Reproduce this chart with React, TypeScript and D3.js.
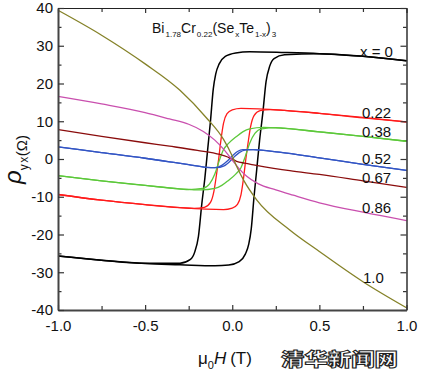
import { useEffect, useRef } from "react";
import {
  select,
  scaleLinear,
  axisBottom,
  axisLeft,
  axisTop,
  axisRight,
  line,
  curveMonotoneX,
} from "d3";

type Pt = [number, number];

// field ticks (T) and resistivity ticks (Ω)
const fieldTicks = [-1, -0.5, 0, 0.5, 1];
const fieldMinor = [-0.75, -0.25, 0.25, 0.75];
const rhoTicks = [-40, -30, -20, -10, 0, 10, 20, 30, 40];
const rhoMinor = [-35, -25, -15, -5, 5, 15, 25, 35];

// x = 0, sweep down
const x0Down: Pt[] = [
  [1, 26.0], [0.75, 27.2], [0.5, 27.9], [0.3, 28.2], [0.1, 28.4], [0.02, 28.1],
  [-0.04, 27.2], [-0.075, 25.2], [-0.095, 22.5], [-0.109, 18.5], [-0.125, 10],
  [-0.14, 3], [-0.157, -5], [-0.175, -12], [-0.194, -20.5], [-0.215, -24.6],
  [-0.24, -26.6], [-0.3, -27.6], [-0.5, -27.6], [-0.75, -26.8], [-1, -25.7],
];
const x0Up: Pt[] = [
  [-1, -25.7], [-0.75, -26.8], [-0.5, -27.7], [-0.3, -28.0], [-0.1, -28.3],
  [-0.02, -28.1], [0.04, -27.2], [0.075, -25.2], [0.095, -22.5], [0.109, -18.5],
  [0.125, -10], [0.14, -3], [0.157, 5], [0.175, 12], [0.194, 20.5], [0.215, 24.6],
  [0.24, 26.6], [0.3, 27.6], [0.5, 27.9], [0.75, 27.2], [1, 26.0],
];

// x = 0.22
const x22Down: Pt[] = [
  [1, 9.8], [0.75, 11.0], [0.5, 12.1], [0.3, 12.9], [0.15, 13.3], [0.05, 13.4],
  [0.0, 13.0], [-0.03, 12.0], [-0.05, 9.5], [-0.065, 5], [-0.078, 0], [-0.09, -4],
  [-0.105, -8.5], [-0.125, -11.5], [-0.16, -12.8], [-0.22, -13.1], [-0.3, -12.9],
  [-0.5, -12.1], [-0.75, -10.9], [-1, -9.4],
];
const x22Up: Pt[] = [
  [-1, -9.4], [-0.75, -10.9], [-0.5, -12.1], [-0.3, -12.9], [-0.15, -13.3],
  [-0.05, -13.4], [0.0, -13.0], [0.03, -12.0], [0.05, -9.5], [0.065, -5],
  [0.078, 0], [0.09, 4], [0.105, 8.5], [0.125, 11.5], [0.16, 12.8], [0.22, 13.1],
  [0.3, 12.9], [0.5, 12.1], [0.75, 10.9], [1, 9.8],
];

// x = 0.38
const x38Down: Pt[] = [
  [1, 4.7], [0.75, 6.0], [0.5, 7.2], [0.3, 8.1], [0.18, 8.4], [0.1, 8.0],
  [0.06, 7.2], [0.02, 5.8], [-0.02, 4.2], [-0.05, 2.5], [-0.075, -0.5],
  [-0.1, -4], [-0.13, -6.6], [-0.17, -7.8], [-0.25, -8.1], [-0.35, -7.7],
  [-0.5, -7.0], [-0.75, -5.8], [-1, -4.4],
];
const x38Up: Pt[] = [
  [-1, -4.4], [-0.75, -5.8], [-0.5, -7.0], [-0.3, -7.9], [-0.18, -8.2],
  [-0.1, -7.8], [-0.06, -7.0], [-0.02, -5.6], [0.02, -4.0], [0.05, -2.3],
  [0.075, 0.7], [0.1, 4.2], [0.13, 6.8], [0.17, 8.0], [0.25, 8.3], [0.35, 7.9],
  [0.5, 7.2], [0.75, 6.0], [1, 4.7],
];

// x = 0.52
const x52Down: Pt[] = [
  [1, -3.0], [0.75, -1.4], [0.5, 0.3], [0.27, 1.8], [0.12, 2.5], [0.06, 2.5],
  [0.03, 2.0], [0.0, 0.8], [-0.03, -0.6], [-0.06, -1.7], [-0.1, -2.3],
  [-0.15, -2.2], [-0.25, -1.5], [-0.36, -0.75], [-0.5, 0.2], [-0.75, 1.7], [-1, 3.2],
];
const x52Up: Pt[] = [
  [-1, 3.2], [-0.75, 1.7], [-0.5, 0.2], [-0.36, -0.75], [-0.25, -1.5],
  [-0.15, -2.2], [-0.09, -2.3], [-0.05, -1.9], [-0.02, -0.9], [0.01, 0.5],
  [0.04, 1.7], [0.08, 2.4], [0.12, 2.5], [0.27, 1.8], [0.5, 0.3], [0.75, -1.4], [1, -3.0],
];

// x = 0.67
const x67: Pt[] = [
  [-1, 7.8], [-0.75, 6.0], [-0.5, 4.3], [-0.36, 3.4], [-0.2, 2.3], [-0.07, 1.2],
  [-0.03, 0.6], [0.0, -0.1], [0.025, -0.6], [0.07, -1.1], [0.13, -1.6],
  [0.33, -3.1], [0.5, -4.1], [0.75, -5.8], [1, -7.5],
];

// x = 0.86
const x86: Pt[] = [
  [-1, 16.6], [-0.75, 14.6], [-0.5, 12.3], [-0.36, 10.6], [-0.25, 9.2],
  [-0.166, 7.3], [-0.1, 5.0], [-0.05, 2.6], [0, -0.3], [0.04, -2.6],
  [0.083, -4.6], [0.15, -6.6], [0.25, -8.2], [0.35, -9.6], [0.5, -11.6],
  [0.75, -14.1], [1, -16.3],
];

// x = 1.0
const x100: Pt[] = [
  [-1, 39.4], [-0.75, 32.8], [-0.5, 25.2], [-0.3, 18.2], [-0.15, 11.0],
  [-0.05, 5.2], [0, 0.8], [0.025, -1.9], [0.07, -6.0], [0.14, -10.8],
  [0.33, -18.8], [0.5, -24.5], [0.75, -32.5], [1, -39.4],
];

const seriesNames = ["x = 0", "0.22", "0.38", "0.52", "0.67", "0.86", "1.0"];
const seriesColors = ["#000000", "#ff1a1a", "#5cc83a", "#3355c4", "#8a0c0c", "#c94fae", "#858228"];
const seriesBranches: Pt[][][] = [
  [x0Down, x0Up],
  [x22Down, x22Up],
  [x38Down, x38Up],
  [x52Down, x52Up],
  [x67],
  [x86],
  [x100],
];
// label anchors in pixels
const labelPos: [number, number][] = [
  [360, 57], [362, 118], [362, 137], [362, 164], [362, 183], [362, 213], [363, 283],
];

const W = 425;
const H = 373;
const font = "'Liberation Sans', Arial, Helvetica, sans-serif";

export default function App() {
  const svgRef = useRef<SVGSVGElement>(null);

  useEffect(() => {
    const svg = select(svgRef.current);
    svg.selectAll("*").remove();

    const x = scaleLinear().domain([-1, 1]).range([58, 406.5]);
    const y = scaleLinear().domain([-40, 40]).range([310, 8]);

    svg.append("rect").attr("width", W).attr("height", H).attr("fill", "#fff");

    const styleAxis = (g: any, stroke: string, sw: number) => {
      g.select(".domain").attr("stroke", stroke).attr("stroke-width", sw);
      g.selectAll(".tick line").attr("stroke", "#333").attr("stroke-width", 1.2);
      g.selectAll(".tick text")
        .attr("fill", "#111")
        .attr("font-size", 15)
        .attr("font-family", font);
    };

    // minor ticks
    const minor = (axis: any, tx: number, ty: number) => {
      const g = svg
        .append("g")
        .attr("transform", `translate(${tx},${ty})`)
        .call(axis.tickFormat(() => ""));
      g.select(".domain").remove();
      g.selectAll(".tick line").attr("stroke", "#333").attr("stroke-width", 1.2);
    };
    minor(axisLeft(y).tickValues(rhoMinor).tickSize(-3.5), 58, 0);
    minor(axisRight(y).tickValues(rhoMinor).tickSize(-3.5), 406.5, 0);
    minor(axisBottom(x).tickValues(fieldMinor).tickSize(-4), 0, 310);
    minor(axisTop(x).tickValues(fieldMinor).tickSize(-4), 0, 8);

    // curves
    const lineFn = line<Pt>()
      .x((d) => x(d[0]))
      .y((d) => y(d[1]))
      .curve(curveMonotoneX);

    seriesBranches.forEach((branches, i) => {
      branches.forEach((b) => {
        const sorted = [...b].sort((a, c) => a[0] - c[0]);
        svg
          .append("path")
          .datum(sorted)
          .attr("fill", "none")
          .attr("stroke", seriesColors[i])
          .attr("stroke-width", i === 0 ? 1.5 : 1.3)
          .attr("d", lineFn);
      });
    });

    // major axes
    const top = svg
      .append("g")
      .attr("transform", "translate(0,8)")
      .call(axisTop(x).tickValues(fieldTicks).tickSizeInner(-5).tickSizeOuter(0).tickFormat(() => ""));
    styleAxis(top, "#222", 1.2);
    const right = svg
      .append("g")
      .attr("transform", "translate(406.5,0)")
      .call(axisRight(y).tickValues(rhoTicks).tickSizeInner(-6).tickSizeOuter(0).tickFormat(() => ""));
    styleAxis(right, "#222", 1.4);
    const bottom = svg
      .append("g")
      .attr("transform", "translate(0,310)")
      .call(
        axisBottom(x)
          .tickValues(fieldTicks)
          .tickSizeInner(-5)
          .tickSizeOuter(0)
          .tickPadding(10)
          .tickFormat((d) => (d as number).toFixed(1)),
      );
    styleAxis(bottom, "#444", 2);
    const left = svg
      .append("g")
      .attr("transform", "translate(58,0)")
      .call(
        axisLeft(y)
          .tickValues(rhoTicks)
          .tickSizeInner(-6)
          .tickSizeOuter(0)
          .tickPadding(5)
          .tickFormat((d) => String(d)),
      );
    styleAxis(left, "#444", 2);

    // series labels
    seriesNames.forEach((n, i) => {
      svg
        .append("text")
        .attr("x", labelPos[i][0])
        .attr("y", labelPos[i][1])
        .attr("font-family", font)
        .attr("font-size", 15)
        .attr("fill", "#111")
        .text(n);
    });

    // composition title
    const title = svg
      .append("text")
      .attr("x", 152)
      .attr("y", 33)
      .attr("font-family", font)
      .attr("font-size", 14)
      .attr("fill", "#111");
    const parts: [string, boolean][] = [
      ["Bi", false], ["1.78", true], ["Cr", false], ["0.22", true], ["(Se", false],
      ["x", true], ["Te", false], ["1-x", true], [")", false], ["3", true],
    ];
    let low = false;
    parts.forEach(([t, sub]) => {
      const dy = sub && !low ? 4 : !sub && low ? -4 : 0;
      low = sub;
      title
        .append("tspan")
        .attr("dy", dy)
        .attr("dx", sub ? 1 : 0)
        .attr("font-size", sub ? 8 : 14)
        .text(t);
    });

    // y label
    const yl = svg
      .append("text")
      .attr("transform", "translate(21,184) rotate(-90)")
      .attr("font-family", font)
      .attr("fill", "#111");
    yl.append("tspan").attr("font-size", 24).attr("font-style", "italic").text("ρ");
    yl.append("tspan").attr("font-size", 12).attr("dy", 7).attr("letter-spacing", 1.5).text("yx");
    yl.append("tspan").attr("font-size", 15).attr("dy", -1.5).attr("dx", -1).text("(Ω)");

    // x label
    const xl = svg
      .append("text")
      .attr("x", 198)
      .attr("y", 364)
      .attr("font-family", font)
      .attr("font-size", 17)
      .attr("fill", "#111");
    xl.append("tspan").text("μ");
    xl.append("tspan").attr("font-size", 11).attr("dy", 5).text("0");
    xl.append("tspan").attr("dy", -5).attr("font-style", "italic").text("H");
    xl.append("tspan").attr("dx", 4).text("(T)");

    // watermark
    svg
      .append("text")
      .attr("x", 281)
      .attr("y", 366)
      .attr("font-family", "'Noto Sans CJK SC', sans-serif")
      .attr("font-weight", 900)
      .attr("font-size", 18)
      .attr("textLength", 117)
      .attr("lengthAdjust", "spacingAndGlyphs")
      .attr("fill", "#fff")
      .attr("stroke", "#222")
      .attr("stroke-width", 1)
      .text("清华新闻网");
  }, []);

  return (
    <svg
      ref={svgRef}
      width={W}
      height={H}
      style={{ position: "absolute", left: 0, top: 0 }}
    />
  );
}
